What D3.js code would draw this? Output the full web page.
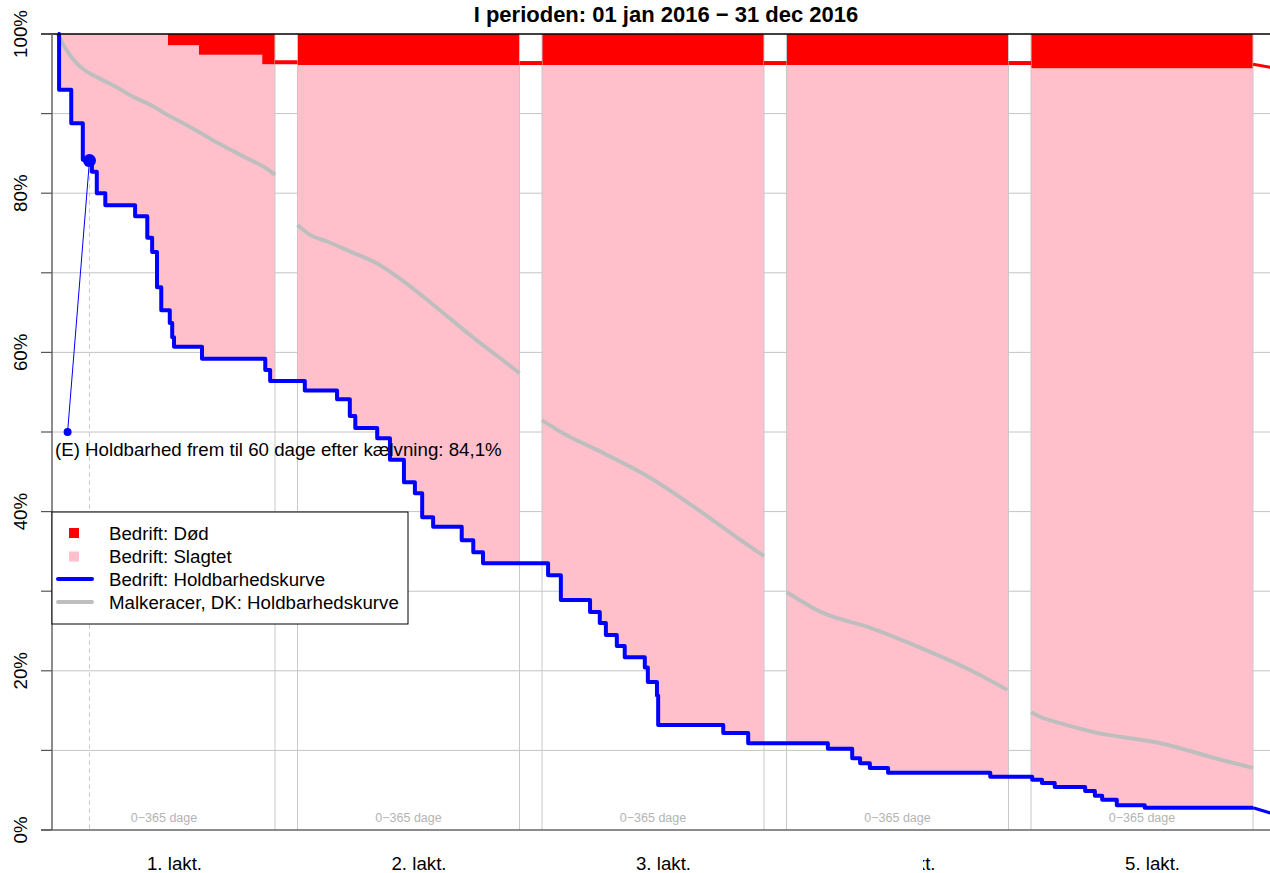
<!DOCTYPE html>
<html>
<head>
<meta charset="utf-8">
<script src="https://cdn.jsdelivr.net/npm/d3@7/dist/d3.min.js"></script>
<style>
  html, body { margin: 0; padding: 0; background: #fff; }
  svg { display: block; font-family: "Liberation Sans", Arial, sans-serif; }
</style>
</head>
<body>
<svg id="chart" width="1270" height="873"></svg>
<script>
// ---------------- DATA ----------------
const title = "I perioden: 01 jan 2016 \u2212 31 dec 2016";
const lactations = ["1. lakt.", "2. lakt.", "3. lakt.", "4. lakt.", "5. lakt."];
const segmentLabel = "0\u2212365 dage";
const yTicks = [0, 10, 20, 30, 40, 50, 60, 70, 80, 90, 100];
const yTickLabels = ["0%", "", "20%", "", "40%", "", "60%", "", "80%", "", "100%"];

// Bedrift: Holdbarhedskurve (step starts: [day in lactation, % surviving])
const bedrift1 = [[8,100],[10,93.0],[30,88.8],[49,84.2],[64,82.7],[72,80.0],[86,78.5],[135,77.1],[155,74.4],[163,72.6],[171,68.2],[178,65.3],[192,63.7],[196,61.9],[199,60.7],[245,59.2],[349,57.8],[357,56.4]];
const bedrift2 = [[0,56.4],[12,55.2],[65,54.1],[86,52.0],[95,50.5],[131,49.2],[152,46.5],[175,43.7],[193,42.3],[205,39.3],[223,38.1],[270,36.4],[289,34.9],[305,33.5]];
const bedrift3 = [[0,33.5],[10,32.0],[31,28.9],[79,27.4],[95,26.0],[105,24.5],[123,23.1],[136,21.7],[169,20.4],[174,18.6],[189,16.9],[191,13.2],[298,12.2],[339,10.9]];
const bedrift4 = [[0,10.9],[68,10.2],[108,9.0],[121,8.4],[137,7.8],[167,7.2],[335,6.7]];
const bedrift5 = [[0,6.7],[2,6.3],[18,5.9],[39,5.4],[89,4.9],[105,4.3],[117,3.8],[141,3.1],[187,2.8]];
const bedriftTail = [[365,2.8],[402,1.95]];

// Bedrift: Død (upper edge of slaughtered area = 100% - dead)
const doed1 = [[0,100],[189,98.6],[240,97.4],[344,96.2]];
const doed2 = [[0,96.1]];
const doed3 = [[0,96.1]];
const doed4 = [[0,96.1]];
const doed5 = [[0,95.7]];
const doedTail = [[365,96.0],[402,95.5]];

// Malkeracer, DK: Holdbarhedskurve
const dk1 = [[8,100],[11,99.5],[22,98.0],[39,96.3],[55,95.3],[72,94.6],[105,93.3],[132,92.1],[160,91.1],[187,89.9],[214,88.8],[242,87.6],[269,86.4],[296,85.3],[324,84.2],[351,83.1],[365,82.3]];
const dk2 = [[0,76.0],[20,74.8],[50,73.9],[86,72.7],[130,71.2],[168,69.3],[210,66.8],[250,64.3],[290,61.8],[333,59.3],[365,57.4]];
const dk3 = [[0,51.5],[31,50.0],[97,47.5],[179,44.2],[261,40.0],[327,36.4],[365,34.4]];
const dk4 = [[0,29.9],[56,27.4],[138,25.4],[220,22.9],[302,20.1],[363,17.6]];
const dk5 = [[0,14.8],[16,14.2],[49,13.4],[103,12.3],[213,10.9],[323,8.6],[365,7.8]];

// Annotation
const annotDay = 60, annotValue = 84.1, annotLabelDay = 24, annotLabelValue = 50;
const annotText = "(E) Holdbarhed frem til 60 dage efter k\u00e6lvning: 84,1%";

const legendItems = [
  {label: "Bedrift: D\u00f8d", type: "square", color: "#ff0000"},
  {label: "Bedrift: Slagtet", type: "square", color: "#ffc0cb"},
  {label: "Bedrift: Holdbarhedskurve", type: "line", color: "#0000ff"},
  {label: "Malkeracer, DK: Holdbarhedskurve", type: "line", color: "#bebebe"}
];

const bedrift = [bedrift1, bedrift2, bedrift3, bedrift4, bedrift5];
const doed = [doed1, doed2, doed3, doed4, doed5];
const dk = [dk1, dk2, dk3, dk4, dk5];

// ---------------- LAYOUT ----------------
const W = 1270, H = 873;
const PERIOD = 402, LEN = 365;
const FS = 18.7;
const x = d3.scaleLinear().domain([0, LEN]).range([53, 275]); // global day -> px (extrapolates)
const y = d3.scaleLinear().domain([0, 100]).range([830, 34]);
const g = (k, d) => k * PERIOD + d;

const svg = d3.select("#chart");
svg.append("rect").attr("width", W).attr("height", H).attr("fill", "#fff");

svg.append("defs").append("clipPath").attr("id", "plotclip")
  .append("rect").attr("x", 52).attr("y", 0).attr("width", W - 52).attr("height", 831);

const plot = svg.append("g").attr("clip-path", "url(#plotclip)");

// horizontal grid
plot.selectAll("line.hgrid").data(yTicks.filter(t => t > 0 && t < 100)).join("line")
  .attr("x1", 52).attr("x2", W).attr("y1", d => y(d)).attr("y2", d => y(d))
  .attr("stroke", "#c4c4c4").attr("stroke-width", 1);

// dashed 60 day line
plot.append("line")
  .attr("x1", x(annotDay)).attr("x2", x(annotDay)).attr("y1", y(annotValue)).attr("y2", y(0))
  .attr("stroke", "#c8c8c8").attr("stroke-width", 1).attr("stroke-dasharray", "4,4");

function stepVal(arr, t, def) {
  let v = def;
  for (const p of arr) { if (p[0] <= t) v = p[1]; }
  return v;
}

for (let k = 0; k < 5; k++) {
  const b = bedrift[k], r = doed[k];
  const bps = Array.from(new Set([0, ...b.map(p => p[0]), ...r.map(p => p[0]), LEN])).sort((a, c) => a - c);
  const rows = bps.map(t => ({t, lo: stepVal(b, t, 100), hi: stepVal(r, t, 100)}));
  plot.append("path").datum(rows)
    .attr("d", d3.area().curve(d3.curveStepAfter)
      .x(d => x(g(k, d.t))).y0(d => y(d.lo)).y1(d => y(d.hi)))
    .attr("fill", "#ffc0cb");
  plot.append("path").datum(rows)
    .attr("d", d3.area().curve(d3.curveStepAfter)
      .x(d => x(g(k, d.t))).y0(d => y(d.hi)).y1(() => y(100)))
    .attr("fill", "#ff0000");
}

// vertical segment borders
const borders = [];
for (let k = 0; k < 5; k++) { if (k > 0) borders.push(g(k, 0)); borders.push(g(k, LEN)); }
plot.selectAll("line.vgrid").data(borders).join("line")
  .attr("x1", d => x(d)).attr("x2", d => x(d)).attr("y1", y(100)).attr("y2", y(0))
  .attr("stroke", "#c8c8c8").attr("stroke-width", 1);

// red line through gaps + tail
for (let k = 0; k < 4; k++) {
  const v = stepVal(doed[k], LEN, 100);
  plot.append("line")
    .attr("x1", x(g(k, LEN))).attr("x2", x(g(k + 1, 0)))
    .attr("y1", y(v) - 2).attr("y2", y(v) - 2)
    .attr("stroke", "#ff0000").attr("stroke-width", 4);
}
plot.append("path").datum(doedTail)
  .attr("d", d3.line().x(d => x(g(4, d[0]))).y(d => y(d[1]) - 1.5))
  .attr("fill", "none").attr("stroke", "#ff0000").attr("stroke-width", 3);

// DK curves
const dkLine = k => d3.line().curve(d3.curveMonotoneX).x(d => x(g(k, d[0]))).y(d => y(d[1]));
dk.forEach((arr, k) => {
  plot.append("path").datum(arr).attr("d", dkLine(k)(arr))
    .attr("fill", "none").attr("stroke", "#bebebe").attr("stroke-width", 4);
});

// Bedrift survival (step)
const allB = [];
bedrift.forEach((arr, k) => arr.forEach(p => allB.push([g(k, p[0]), p[1]])));
allB.push([g(4, LEN), bedrift5[bedrift5.length - 1][1]]);
plot.append("path").datum(allB)
  .attr("d", d3.line().curve(d3.curveStepAfter).x(d => x(d[0])).y(d => y(d[1])))
  .attr("fill", "none").attr("stroke", "#0000ff").attr("stroke-width", 4).attr("stroke-linejoin", "round");
plot.append("path").datum(bedriftTail)
  .attr("d", d3.line().x(d => x(g(4, d[0]))).y(d => y(d[1])))
  .attr("fill", "none").attr("stroke", "#0000ff").attr("stroke-width", 3);

// annotation
svg.append("line")
  .attr("x1", x(annotLabelDay)).attr("y1", y(annotLabelValue))
  .attr("x2", x(annotDay)).attr("y2", y(annotValue))
  .attr("stroke", "#0000ff").attr("stroke-width", 1);
svg.append("circle").attr("cx", x(annotLabelDay)).attr("cy", y(annotLabelValue)).attr("r", 4).attr("fill", "#0000ff");
svg.append("circle").attr("cx", x(annotDay)).attr("cy", y(annotValue)).attr("r", 6.5).attr("fill", "#0000ff");
svg.append("text").attr("x", 55).attr("y", 456).attr("font-size", FS).attr("fill", "#000").text(annotText);

// segment sub labels
svg.selectAll("text.seg").data(lactations).join("text")
  .attr("x", (d, k) => x(g(k, LEN / 2))).attr("y", 822)
  .attr("text-anchor", "middle").attr("font-size", 12.5).attr("fill", "#b4b4b4")
  .text(segmentLabel);

// lactation labels
svg.selectAll("text.lakt").data(lactations).join("text")
  .attr("x", (d, k) => x(g(k, LEN / 2)) + 10.5).attr("y", 870)
  .attr("text-anchor", "middle").attr("font-size", FS).attr("fill", "#000")
  .text(d => d);
// part of the 4th label is hidden in the reference
svg.append("rect").attr("x", 872).attr("y", 848).attr("width", 51).attr("height", 25).attr("fill", "#fff");

// axes
svg.append("line").attr("x1", 41).attr("x2", W).attr("y1", y(100)).attr("y2", y(100))
  .attr("stroke", "#000").attr("stroke-width", 1.5);
svg.append("line").attr("x1", 52).attr("x2", 52).attr("y1", y(100)).attr("y2", y(0))
  .attr("stroke", "#666").attr("stroke-width", 1.5);
svg.append("line").attr("x1", 41).attr("x2", W).attr("y1", y(0)).attr("y2", y(0))
  .attr("stroke", "#666").attr("stroke-width", 1.5);
svg.selectAll("line.ytick").data(yTicks).join("line")
  .attr("x1", 41).attr("x2", 52).attr("y1", d => y(d)).attr("y2", d => y(d))
  .attr("stroke", "#555").attr("stroke-width", 1.2);
svg.selectAll("text.ylab").data(yTicks.filter((d, i) => yTickLabels[i] !== "")).join("text")
  .attr("transform", d => `translate(27,${y(d)}) rotate(-90)`)
  .attr("text-anchor", "middle").attr("font-size", FS).attr("fill", "#000")
  .text(d => yTickLabels[yTicks.indexOf(d)]);

// title
svg.append("text").attr("x", 666).attr("y", 22).attr("text-anchor", "middle")
  .attr("font-size", 22).attr("font-weight", "bold").attr("fill", "#000").text(title);

// legend
const lg = svg.append("g");
lg.append("rect").attr("x", 52).attr("y", 512).attr("width", 356).attr("height", 112)
  .attr("fill", "#fff").attr("stroke", "#000").attr("stroke-width", 1);
const rowY = [533, 556.5, 579, 602];
legendItems.forEach((it, i) => {
  if (it.type === "square") {
    lg.append("rect").attr("x", 69).attr("y", rowY[i] - 5).attr("width", 10).attr("height", 10).attr("fill", it.color);
  } else {
    lg.append("line").attr("x1", 58).attr("x2", 92).attr("y1", rowY[i]).attr("y2", rowY[i])
      .attr("stroke", it.color).attr("stroke-width", 4).attr("stroke-linecap", "round");
  }
  lg.append("text").attr("x", 109).attr("y", rowY[i] + 6.8).attr("font-size", FS).attr("fill", "#000").text(it.label);
});
</script>
</body>
</html>
